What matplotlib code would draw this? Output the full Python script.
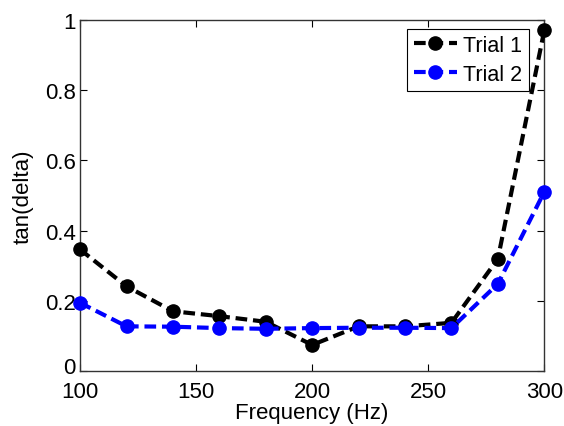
import numpy as np
import matplotlib
matplotlib.use("Agg")
import matplotlib.pyplot as plt
import matplotlib.transforms as mtransforms

# ==========================================
# DATA
# ==========================================

freq = [100, 120, 140, 160, 180, 200, 220, 240, 260, 280, 300]

trial_1 = [0.346, 0.241, 0.170, 0.156, 0.140, 0.074, 0.127, 0.127, 0.137, 0.319, 0.970]
trial_2 = [0.194, 0.127, 0.126, 0.122, 0.120, 0.122, 0.123, 0.123, 0.122, 0.248, 0.510]

x_ticks = [100, 150, 200, 250, 300]
y_ticks = [0, 0.2, 0.4, 0.6, 0.8, 1]
y_tick_labels = ["0", "0.2", "0.4", "0.6", "0.8", "1"]

# ==========================================
# PLOT
# ==========================================

plt.rcParams["font.family"] = ["Liberation Sans", "DejaVu Sans"]

fig = plt.figure(figsize=(5.64, 4.27), dpi=100)
ax = fig.add_axes([0.142, 0.129, 0.823, 0.822])

dash = (0, (2.8, 1.4))

ax.plot(
    freq,
    trial_1,
    color="black",
    linestyle=dash,
    linewidth=3,
    marker="o",
    markersize=9.5,
    label="Trial 1",
    clip_on=False,
    zorder=3
)

ax.plot(
    freq,
    trial_2,
    color="#0000ff",
    linestyle=dash,
    linewidth=3,
    marker="o",
    markersize=9.5,
    label="Trial 2",
    clip_on=False,
    zorder=3
)

ax.set_xlim(100, 300)
ax.set_ylim(0, 1)

ax.set_xticks(x_ticks)
ax.set_yticks(y_ticks)
ax.set_yticklabels(y_tick_labels)

ax.tick_params(
    direction="in",
    top=True,
    right=True,
    labelsize=16,
    length=5,
    width=0.8
)
ax.tick_params(axis="x", pad=7)
ax.tick_params(axis="y", pad=3)

# lift the "0" label a little so it clears the "100" below it
lift = mtransforms.ScaledTranslation(0, 4 / 72, fig.dpi_scale_trans)
zero_label = ax.get_yticklabels()[0]
zero_label.set_transform(zero_label.get_transform() + lift)

for spine in ax.spines.values():
    spine.set_linewidth(1.0)
    spine.set_color("#333333")

ax.set_xlabel("Frequency (Hz)", fontsize=16, labelpad=0)
ax.set_ylabel("tan(delta)", fontsize=16, labelpad=8)

leg = ax.legend(
    loc="upper right",
    fontsize=15.5,
    fancybox=False,
    framealpha=1,
    edgecolor="black",
    handlelength=2.0,
    handletextpad=0.3,
    borderpad=0.3,
    labelspacing=0.35,
    borderaxespad=0.4,
    bbox_to_anchor=(0.985, 1.0)
)
leg.get_frame().set_linewidth(0.8)

plt.savefig("out.png", dpi=100)
plt.close()
